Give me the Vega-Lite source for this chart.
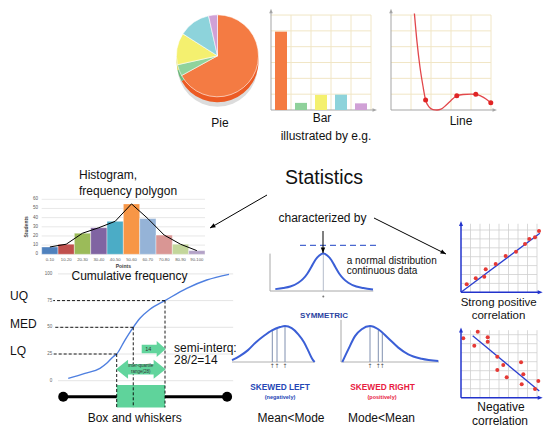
{
"$schema":"https://vega.github.io/schema/vega-lite/v6.json",
"width":545,"height":427,"autosize":"none","padding":0,"background":"#ffffff",
"config":{"view":{"stroke":null},"font":"Liberation Sans","text":{"font":"Liberation Sans"}},
"datasets":{
"one":[{"o":1}],
"idx":[{"k":1},{"k":2},{"k":3},{"k":4},{"k":5},{"k":6},{"k":7},{"k":8}],
"pie":[{"slice":"A","share":67,"rank":1},{"slice":"B","share":4.5,"rank":2},{"slice":"C","share":12.5,"rank":3},{"slice":"D","share":12.5,"rank":4},{"slice":"E","share":3.5,"rank":5}],
"bar":[{"item":"A","value":4.95},{"item":"B","value":0.45},{"item":"C","value":0.95},{"item":"D","value":0.97},{"item":"E","value":0.42}],
"curve":[{"t":1.17,"v":6.1},{"t":1.3,"v":4.3},{"t":1.45,"v":2.7},{"t":1.6,"v":1.5},{"t":1.73,"v":0.63},{"t":1.9,"v":0.2},{"t":2.1,"v":0.03},{"t":2.3,"v":0},{"t":2.5,"v":0.05},{"t":2.75,"v":0.3},{"t":3.0,"v":0.6},{"t":3.29,"v":0.9},{"t":3.6,"v":0.98},{"t":4.0,"v":1.0},{"t":4.24,"v":0.99},{"t":4.5,"v":0.88},{"t":4.75,"v":0.7},{"t":4.99,"v":0.46}],
"dots":[{"t":1.73,"v":0.63},{"t":3.29,"v":0.9},{"t":4.24,"v":0.99},{"t":4.99,"v":0.46}],
"hist":[{"bin":"0-10","lo":0,"hi":10,"mid":5,"students":8},{"bin":"10-20","lo":10,"hi":20,"mid":15,"students":11},{"bin":"20-30","lo":20,"hi":30,"mid":25,"students":23},{"bin":"30-40","lo":30,"hi":40,"mid":35,"students":29},{"bin":"40-50","lo":40,"hi":50,"mid":45,"students":36},{"bin":"50-60","lo":50,"hi":60,"mid":55,"students":55},{"bin":"60-70","lo":60,"hi":70,"mid":65,"students":39},{"bin":"70-80","lo":70,"hi":80,"mid":75,"students":21},{"bin":"80-90","lo":80,"hi":90,"mid":85,"students":11},{"bin":"90-100","lo":90,"hi":100,"mid":95,"students":4}],
"histTicks":[{"t":0},{"t":10},{"t":20},{"t":30},{"t":40},{"t":50},{"t":60}],
"cum":[{"pts":9.9,"cf":2.2},{"pts":19.6,"cf":6.9},{"pts":28.3,"cf":11.6},{"pts":32.2,"cf":16.3},{"pts":36,"cf":22.5},{"pts":38,"cf":25},{"pts":42.8,"cf":38.1},{"pts":47.6,"cf":50},{"pts":51.5,"cf":58.4},{"pts":57.3,"cf":66.9},{"pts":66,"cf":75},{"pts":78.6,"cf":86.5},{"pts":90.2,"cf":94.3},{"pts":103.1,"cf":99.6}],
"cumTicks":[{"cf":0},{"cf":25},{"cf":50},{"cf":75},{"cf":100}],
"quart":[{"q":"LQ","u":38,"cf":25},{"q":"MED","u":47.6,"cf":50},{"q":"UQ","u":66,"cf":75}],
"box":[{"min":7,"lq":38,"med":47.6,"uq":66,"max":102}],
"sym":[{"d":-4.8,"h":0.05},{"d":-4,"h":0.08},{"d":-3.3,"h":0.12},{"d":-2.5,"h":0.22},{"d":-2,"h":0.33},{"d":-1.6,"h":0.46},{"d":-1.2,"h":0.64},{"d":-0.8,"h":0.83},{"d":-0.4,"h":0.95},{"d":0,"h":1},{"d":0.4,"h":0.95},{"d":0.8,"h":0.83},{"d":1.2,"h":0.64},{"d":1.6,"h":0.46},{"d":2,"h":0.33},{"d":2.5,"h":0.22},{"d":3.3,"h":0.12},{"d":4,"h":0.08},{"d":4.97,"h":0.04}],
"skl":[{"d":-5.3,"h":0.05},{"d":-4.5,"h":0.17},{"d":-3.7,"h":0.33},{"d":-2.9,"h":0.55},{"d":-2.1,"h":0.73},{"d":-1.3,"h":0.88},{"d":-0.5,"h":0.97},{"d":0,"h":1},{"d":0.67,"h":0.94},{"d":1.33,"h":0.77},{"d":1.9,"h":0.55},{"d":2.33,"h":0.31},{"d":2.7,"h":0.1},{"d":2.95,"h":0}],
"sklLines":[{"d":-1.27,"h":0.88},{"d":-0.8,"h":0.94},{"d":0,"h":1}],
"skr":[{"d":0.13,"h":0},{"d":0.73,"h":0.35},{"d":1.4,"h":0.72},{"d":2.07,"h":0.91},{"d":2.9,"h":1},{"d":3.73,"h":0.91},{"d":4.73,"h":0.66},{"d":5.73,"h":0.4},{"d":6.73,"h":0.21},{"d":8.07,"h":0.09},{"d":9.73,"h":0.03}],
"skrLines":[{"d":2.9,"h":1},{"d":3.73,"h":0.91},{"d":4.13,"h":0.83}],
"pos":[{"a":0.6,"b":0.9},{"a":1.55,"b":1.57},{"a":2.45,"b":1.75},{"a":2.6,"b":2.58},{"a":3.65,"b":3.18},{"a":4.7,"b":4.08},{"a":5.79,"b":4.56},{"a":6.74,"b":5.43},{"a":7.19,"b":5.99},{"a":7.79,"b":6.18},{"a":8.21,"b":6.89}],
"posTrend":[{"a":0,"b":0},{"a":8.3,"b":6.63}],
"neg":[{"a":0.24,"b":6.6},{"a":1.76,"b":7.33},{"a":1.4,"b":5.78},{"a":2.81,"b":6.71},{"a":2.81,"b":6.22},{"a":3.82,"b":4.56},{"a":4.45,"b":3.63},{"a":3.82,"b":3.08},{"a":4.81,"b":2.27},{"a":6.32,"b":3.93},{"a":6.56,"b":2.6},{"a":6.39,"b":1.49},{"a":8.14,"b":1.86},{"a":7.79,"b":0.97}],
"negTrend":[{"a":1.23,"b":6.89},{"a":8.24,"b":0.74}],
"arrowPts":[{"arrow":"1","x":267,"y":195},{"arrow":"1","x":210,"y":228},{"arrow":"2","x":374,"y":218},{"arrow":"2","x":446,"y":254},{"arrow":"3","x":323,"y":231},{"arrow":"3","x":323,"y":253}],
"txt12c":[{"label":"Pie","x":220,"y":123},{"label":"Bar","x":322,"y":118},{"label":"illustrated by e.g.","x":326,"y":136},{"label":"Line","x":461,"y":121},{"label":"Cumulative frequency","x":129.5,"y":276},{"label":"characterized by","x":322.5,"y":218},{"label":"Box and whiskers","x":134.7,"y":418},{"label":"Mean<Mode","x":291,"y":418},{"label":"Mode<Mean","x":381.5,"y":418},{"label":"Negative","x":501,"y":407},{"label":"correlation","x":500,"y":420.5}],
"txt11c":[{"label":"Strong positive","x":498.7,"y":302.5},{"label":"correlation","x":498.5,"y":316}],
"txt12l":[{"label":"Histogram,","x":79,"y":175},{"label":"frequency polygon","x":79,"y":190.5},{"label":"semi-interq:","x":174,"y":347.5},{"label":"28/2=14","x":174,"y":360},{"label":"UQ","x":10,"y":296},{"label":"MED","x":10,"y":324},{"label":"LQ","x":10,"y":351}],
"txt10l":[{"label":"a normal distribution","x":346.7,"y":261},{"label":"continuous data","x":346.7,"y":270.5}]
},
"resolve":{"scale":{"x":"independent","y":"independent","color":"independent","theta":"independent"}},
"layer":[
{"resolve":{"scale":{"color":"independent"}},
 "layer":[
  {"data":{"name":"one"},"mark":{"type":"point","shape":"circle","filled":true,"color":"#DCDCDC","opacity":1,"size":6400},
   "encoding":{"x":{"datum":"pie","type":"nominal","scale":{"type":"point","domain":["pie"],"range":[176.7,258.3],"padding":0.5},"axis":null},
    "y":{"datum":"shadow","type":"nominal","scale":{"type":"point","domain":["top","side","shadow"],"range":[55.8,66.8],"padding":0},"axis":null}}},
  {"data":{"name":"pie"},"mark":{"type":"arc","radius":41},
   "encoding":{"theta":{"field":"share","type":"quantitative","stack":true},"order":{"field":"rank","type":"quantitative"},
    "color":{"field":"slice","type":"nominal","scale":{"domain":["A","B","C","D","E"],"range":["#EC5B24","#6DBA7B","#D8D54F","#6CB6BE","#B384BB"]},"legend":null},
    "x":{"datum":"pie","type":"nominal","scale":{"type":"point","domain":["pie"],"range":[176.7,258.3],"padding":0.5},"axis":null},
    "y":{"datum":"side","type":"nominal","scale":{"type":"point","domain":["top","side","shadow"],"range":[55.8,66.8],"padding":0},"axis":null}}},
  {"data":{"name":"pie"},"mark":{"type":"arc","radius":41,"stroke":"#ffffff","strokeWidth":0.6},
   "encoding":{"theta":{"field":"share","type":"quantitative","stack":true},"order":{"field":"rank","type":"quantitative"},
    "color":{"field":"slice","type":"nominal","scale":{"domain":["A","B","C","D","E"],"range":["#F47B43","#8FD39C","#F4F06F","#8DD3DB","#D0A1D6"]},"legend":null},
    "x":{"datum":"pie","type":"nominal","scale":{"type":"point","domain":["pie"],"range":[176.7,258.3],"padding":0.5},"axis":null},
    "y":{"datum":"top","type":"nominal","scale":{"type":"point","domain":["top","side","shadow"],"range":[55.8,66.8],"padding":0},"axis":null}}}
 ]},
{"layer":[
  {"data":{"name":"idx"},"transform":[{"filter":"datum.k<=5"}],"mark":{"type":"rule","color":"#F1E6C6","strokeWidth":1},
   "encoding":{"x":{"field":"k","type":"quantitative","scale":{"domain":[0,5.3],"range":[271,377],"nice":false,"zero":false},"axis":null},
    "y":{"datum":0,"type":"quantitative","scale":{"domain":[0,6.4],"range":[110,8.7],"nice":false,"zero":false},"axis":null},"y2":{"datum":6}}},
  {"data":{"name":"idx"},"transform":[{"filter":"datum.k<=6"}],"mark":{"type":"rule","color":"#F1E6C6","strokeWidth":1},
   "encoding":{"y":{"field":"k","type":"quantitative","scale":{"domain":[0,6.4],"range":[110,8.7],"nice":false,"zero":false},"axis":null},
    "x":{"datum":0,"type":"quantitative","scale":{"domain":[0,5.3],"range":[271,377],"nice":false,"zero":false},"axis":null},"x2":{"datum":5}}},
  {"data":{"name":"one"},"mark":{"type":"rule","color":"#A5A5A5","strokeWidth":1},
   "encoding":{"x":{"datum":0,"type":"quantitative","scale":{"domain":[0,5.3],"range":[271,377],"nice":false,"zero":false},"axis":null},
    "y":{"datum":0,"type":"quantitative","scale":{"domain":[0,6.4],"range":[110,8.7],"nice":false,"zero":false},"axis":null},"y2":{"datum":6.2}}},
  {"data":{"name":"one"},"mark":{"type":"rule","color":"#A5A5A5","strokeWidth":1},
   "encoding":{"y":{"datum":0,"type":"quantitative","scale":{"domain":[0,6.4],"range":[110,8.7],"nice":false,"zero":false},"axis":null},
    "x":{"datum":0,"type":"quantitative","scale":{"domain":[0,5.3],"range":[271,377],"nice":false,"zero":false},"axis":null},"x2":{"datum":5.1}}},
  {"data":{"name":"one"},"mark":{"type":"point","shape":"M0,0L-0.8,2L0.8,2Z","filled":true,"opacity":1,"color":"#A5A5A5","size":20,"angle":0},
   "encoding":{"x":{"datum":0,"type":"quantitative","scale":{"domain":[0,5.3],"range":[271,377],"nice":false,"zero":false},"axis":null},
    "y":{"datum":6.4,"type":"quantitative","scale":{"domain":[0,6.4],"range":[110,8.7],"nice":false,"zero":false},"axis":null}}},
  {"data":{"name":"one"},"mark":{"type":"point","shape":"M0,0L-0.8,2L0.8,2Z","filled":true,"opacity":1,"color":"#A5A5A5","size":20,"angle":90},
   "encoding":{"x":{"datum":5.3,"type":"quantitative","scale":{"domain":[0,5.3],"range":[271,377],"nice":false,"zero":false},"axis":null},
    "y":{"datum":0,"type":"quantitative","scale":{"domain":[0,6.4],"range":[110,8.7],"nice":false,"zero":false},"axis":null}}}
 ]},
{"data":{"name":"bar"},"mark":{"type":"bar"},
 "encoding":{"x":{"field":"item","type":"nominal","scale":{"domain":["A","B","C","D","E"],"range":[271,371],"paddingInner":0.4,"paddingOuter":0.2},"axis":null},
  "y":{"field":"value","type":"quantitative","scale":{"domain":[0,6.4],"range":[110,8.7],"nice":false,"zero":false},"axis":null},
  "color":{"field":"item","type":"nominal","scale":{"domain":["A","B","C","D","E"],"range":["#F47B43","#8FD19B","#F4F06F","#8DD3DB","#D0A1D6"]},"legend":null}}},
{"layer":[
  {"data":{"name":"idx"},"transform":[{"filter":"datum.k<=5"}],"mark":{"type":"rule","color":"#F1E6C6","strokeWidth":1},
   "encoding":{"x":{"field":"k","type":"quantitative","scale":{"domain":[0,5.3],"range":[391,497],"nice":false,"zero":false},"axis":null},
    "y":{"datum":0,"type":"quantitative","scale":{"domain":[0,6.4],"range":[110,8.7],"nice":false,"zero":false},"axis":null},"y2":{"datum":6}}},
  {"data":{"name":"idx"},"transform":[{"filter":"datum.k<=6"}],"mark":{"type":"rule","color":"#F1E6C6","strokeWidth":1},
   "encoding":{"y":{"field":"k","type":"quantitative","scale":{"domain":[0,6.4],"range":[110,8.7],"nice":false,"zero":false},"axis":null},
    "x":{"datum":0,"type":"quantitative","scale":{"domain":[0,5.3],"range":[391,497],"nice":false,"zero":false},"axis":null},"x2":{"datum":5}}},
  {"data":{"name":"one"},"mark":{"type":"rule","color":"#A5A5A5","strokeWidth":1},
   "encoding":{"x":{"datum":0,"type":"quantitative","scale":{"domain":[0,5.3],"range":[391,497],"nice":false,"zero":false},"axis":null},
    "y":{"datum":0,"type":"quantitative","scale":{"domain":[0,6.4],"range":[110,8.7],"nice":false,"zero":false},"axis":null},"y2":{"datum":6.2}}},
  {"data":{"name":"one"},"mark":{"type":"rule","color":"#A5A5A5","strokeWidth":1},
   "encoding":{"y":{"datum":0,"type":"quantitative","scale":{"domain":[0,6.4],"range":[110,8.7],"nice":false,"zero":false},"axis":null},
    "x":{"datum":0,"type":"quantitative","scale":{"domain":[0,5.3],"range":[391,497],"nice":false,"zero":false},"axis":null},"x2":{"datum":5.1}}},
  {"data":{"name":"one"},"mark":{"type":"point","shape":"M0,0L-0.8,2L0.8,2Z","filled":true,"opacity":1,"color":"#A5A5A5","size":20,"angle":0},
   "encoding":{"x":{"datum":0,"type":"quantitative","scale":{"domain":[0,5.3],"range":[391,497],"nice":false,"zero":false},"axis":null},
    "y":{"datum":6.4,"type":"quantitative","scale":{"domain":[0,6.4],"range":[110,8.7],"nice":false,"zero":false},"axis":null}}},
  {"data":{"name":"one"},"mark":{"type":"point","shape":"M0,0L-0.8,2L0.8,2Z","filled":true,"opacity":1,"color":"#A5A5A5","size":20,"angle":90},
   "encoding":{"x":{"datum":5.3,"type":"quantitative","scale":{"domain":[0,5.3],"range":[391,497],"nice":false,"zero":false},"axis":null},
    "y":{"datum":0,"type":"quantitative","scale":{"domain":[0,6.4],"range":[110,8.7],"nice":false,"zero":false},"axis":null}}},
  {"data":{"name":"curve"},"mark":{"type":"line","color":"#E2474B","strokeWidth":1.3,"interpolate":"monotone"},
   "encoding":{"x":{"field":"t","type":"quantitative","scale":{"domain":[0,5.3],"range":[391,497],"nice":false,"zero":false},"axis":null},
    "y":{"field":"v","type":"quantitative","scale":{"domain":[0,6.4],"range":[110,8.7],"nice":false,"zero":false},"axis":null}}},
  {"data":{"name":"dots"},"mark":{"type":"point","shape":"circle","filled":true,"opacity":1,"color":"#E02424","size":25},
   "encoding":{"x":{"field":"t","type":"quantitative","scale":{"domain":[0,5.3],"range":[391,497],"nice":false,"zero":false},"axis":null},
    "y":{"field":"v","type":"quantitative","scale":{"domain":[0,6.4],"range":[110,8.7],"nice":false,"zero":false},"axis":null}}}
 ]},
{"layer":[
  {"data":{"name":"histTicks"},"mark":{"type":"rule","color":"#D9D9D9","strokeWidth":0.6},
   "encoding":{"y":{"field":"t","type":"quantitative","scale":{"domain":[0,60],"range":[254.3,199.3],"nice":false,"zero":false},"axis":null},
    "x":{"datum":0,"type":"quantitative","scale":{"domain":[0,100],"range":[41.7,205],"nice":false,"zero":false},"axis":null},"x2":{"datum":100}}},
  {"data":{"name":"hist"},"mark":{"type":"rect","stroke":"#ffffff","strokeWidth":0.4},
   "encoding":{"x":{"field":"lo","type":"quantitative","scale":{"domain":[0,100],"range":[41.7,205],"nice":false,"zero":false},"axis":null},"x2":{"field":"hi"},
    "y":{"field":"students","type":"quantitative","scale":{"domain":[0,60],"range":[254.3,199.3],"nice":false,"zero":false},"axis":null},"y2":{"datum":0},
    "color":{"field":"bin","type":"nominal","scale":{"domain":["0-10","10-20","20-30","30-40","40-50","50-60","60-70","70-80","80-90","90-100"],"range":["#4F81BD","#C0504D","#9BBB59","#8064A2","#4BACC6","#F79646","#95B3D7","#D99694","#C3D69B","#B3A2C7"]},"legend":null}}},
  {"data":{"name":"hist"},"mark":{"type":"line","color":"#000000","strokeWidth":1},
   "encoding":{"x":{"field":"mid","type":"quantitative","scale":{"domain":[0,100],"range":[41.7,205],"nice":false,"zero":false},"axis":null},
    "y":{"field":"students","type":"quantitative","scale":{"domain":[0,60],"range":[254.3,199.3],"nice":false,"zero":false},"axis":null}}},
  {"data":{"name":"histTicks"},"mark":{"type":"text","align":"right","fontSize":4.5,"color":"#595959"},
   "encoding":{"y":{"field":"t","type":"quantitative","scale":{"domain":[0,60],"range":[254.3,199.3],"nice":false,"zero":false},"axis":null},
    "x":{"datum":-2.2,"type":"quantitative","scale":{"domain":[0,100],"range":[41.7,205],"nice":false,"zero":false},"axis":null},"text":{"field":"t","type":"quantitative"}}},
  {"data":{"name":"hist"},"mark":{"type":"text","fontSize":4.2,"color":"#595959"},
   "encoding":{"x":{"field":"mid","type":"quantitative","scale":{"domain":[0,100],"range":[41.7,205],"nice":false,"zero":false},"axis":null},
    "y":{"datum":-6.5,"type":"quantitative","scale":{"domain":[0,60],"range":[254.3,199.3],"nice":false,"zero":false},"axis":null},"text":{"field":"bin","type":"nominal"}}},
  {"data":{"name":"one"},"mark":{"type":"text","text":"Students","angle":270,"fontSize":5,"fontWeight":"bold","color":"#404040"},
   "encoding":{"x":{"datum":-9.5,"type":"quantitative","scale":{"domain":[0,100],"range":[41.7,205],"nice":false,"zero":false},"axis":null},
    "y":{"datum":30,"type":"quantitative","scale":{"domain":[0,60],"range":[254.3,199.3],"nice":false,"zero":false},"axis":null}}},
  {"data":{"name":"one"},"mark":{"type":"text","text":"Points","fontSize":5,"fontWeight":"bold","color":"#404040"},
   "encoding":{"x":{"datum":50,"type":"quantitative","scale":{"domain":[0,100],"range":[41.7,205],"nice":false,"zero":false},"axis":null},
    "y":{"datum":-12.6,"type":"quantitative","scale":{"domain":[0,60],"range":[254.3,199.3],"nice":false,"zero":false},"axis":null}}}
 ]},
{"layer":[
  {"data":{"name":"cumTicks"},"mark":{"type":"rule","color":"#DDDDDD","strokeWidth":0.8},
   "encoding":{"y":{"field":"cf","type":"quantitative","scale":{"domain":[-30,100],"range":[412.74,273.9],"nice":false,"zero":false},"axis":null},
    "x":{"datum":4,"type":"quantitative","scale":{"domain":[-4,106],"range":[44.25,234],"nice":false,"zero":false},"axis":null},"x2":{"datum":105.5}}},
  {"data":{"name":"cumTicks"},"mark":{"type":"text","align":"right","fontSize":4.5,"color":"#666666"},
   "encoding":{"y":{"field":"cf","type":"quantitative","scale":{"domain":[-30,100],"range":[412.74,273.9],"nice":false,"zero":false},"axis":null},
    "x":{"datum":0.7,"type":"quantitative","scale":{"domain":[-4,106],"range":[44.25,234],"nice":false,"zero":false},"axis":null},"text":{"field":"cf","type":"quantitative"}}},
  {"data":{"name":"cum"},"mark":{"type":"line","color":"#4E7FE0","strokeWidth":1.4,"interpolate":"monotone"},
   "encoding":{"x":{"field":"pts","type":"quantitative","scale":{"domain":[-4,106],"range":[44.25,234],"nice":false,"zero":false},"axis":null},
    "y":{"field":"cf","type":"quantitative","scale":{"domain":[-30,100],"range":[412.74,273.9],"nice":false,"zero":false},"axis":null}}},
  {"data":{"name":"box"},"mark":{"type":"rule","color":"#000000","strokeWidth":3},
   "encoding":{"x":{"field":"min","type":"quantitative","scale":{"domain":[-4,106],"range":[44.25,234],"nice":false,"zero":false},"axis":null},"x2":{"field":"max"},
    "y":{"datum":-15,"type":"quantitative","scale":{"domain":[-30,100],"range":[412.74,273.9],"nice":false,"zero":false},"axis":null}}},
  {"data":{"name":"box"},"mark":{"type":"point","shape":"circle","filled":true,"opacity":1,"color":"#000000","size":100},
   "encoding":{"x":{"field":"min","type":"quantitative","scale":{"domain":[-4,106],"range":[44.25,234],"nice":false,"zero":false},"axis":null},
    "y":{"datum":-15,"type":"quantitative","scale":{"domain":[-30,100],"range":[412.74,273.9],"nice":false,"zero":false},"axis":null}}},
  {"data":{"name":"box"},"mark":{"type":"point","shape":"circle","filled":true,"opacity":1,"color":"#000000","size":100},
   "encoding":{"x":{"field":"max","type":"quantitative","scale":{"domain":[-4,106],"range":[44.25,234],"nice":false,"zero":false},"axis":null},
    "y":{"datum":-15,"type":"quantitative","scale":{"domain":[-30,100],"range":[412.74,273.9],"nice":false,"zero":false},"axis":null}}},
  {"data":{"name":"box"},"mark":{"type":"rect","color":"#5FD39B"},
   "encoding":{"x":{"field":"lq","type":"quantitative","scale":{"domain":[-4,106],"range":[44.25,234],"nice":false,"zero":false},"axis":null},"x2":{"field":"uq"},
    "y":{"datum":-4,"type":"quantitative","scale":{"domain":[-30,100],"range":[412.74,273.9],"nice":false,"zero":false},"axis":null},"y2":{"datum":-25}}},
  {"data":{"name":"quart"},"mark":{"type":"rule","color":"#000000","strokeWidth":0.9,"strokeDash":[3,2]},
   "encoding":{"x":{"field":"u","type":"quantitative","scale":{"domain":[-4,106],"range":[44.25,234],"nice":false,"zero":false},"axis":null},"x2":{"datum":1.2},
    "y":{"field":"cf","type":"quantitative","scale":{"domain":[-30,100],"range":[412.74,273.9],"nice":false,"zero":false},"axis":null}}},
  {"data":{"name":"quart"},"mark":{"type":"rule","color":"#000000","strokeWidth":0.9,"strokeDash":[3,2]},
   "encoding":{"x":{"field":"u","type":"quantitative","scale":{"domain":[-4,106],"range":[44.25,234],"nice":false,"zero":false},"axis":null},
    "y":{"field":"cf","type":"quantitative","scale":{"domain":[-30,100],"range":[412.74,273.9],"nice":false,"zero":false},"axis":null},"y2":{"datum":-25}}},
  {"data":{"name":"one"},"mark":{"type":"point","shape":"M-2.48,0L-1.28,-0.95L-1.28,-0.53L1.28,-0.53L1.28,-0.95L2.48,0L1.28,0.95L1.28,0.53L-1.28,0.53L-1.28,0.95Z","filled":true,"opacity":1,"color":"#62D59D","size":400},
   "encoding":{"x":{"datum":52,"type":"quantitative","scale":{"domain":[-4,106],"range":[44.25,234],"nice":false,"zero":false},"axis":null},
    "y":{"datum":10.7,"type":"quantitative","scale":{"domain":[-30,100],"range":[412.74,273.9],"nice":false,"zero":false},"axis":null}}},
  {"data":{"name":"one"},"mark":{"type":"point","shape":"M-1.2,-0.415L0.3,-0.415L0.3,-0.8L1.2,0L0.3,0.8L0.3,0.415L-1.2,0.415Z","filled":true,"opacity":1,"color":"#62D59D","size":400},
   "encoding":{"x":{"datum":59.45,"type":"quantitative","scale":{"domain":[-4,106],"range":[44.25,234],"nice":false,"zero":false},"axis":null},
    "y":{"datum":29.7,"type":"quantitative","scale":{"domain":[-30,100],"range":[412.74,273.9],"nice":false,"zero":false},"axis":null}}},
  {"data":{"name":"one"},"mark":{"type":"text","text":"inter-quartile","fontSize":4.5,"color":"#333333"},
   "encoding":{"x":{"datum":52,"type":"quantitative","scale":{"domain":[-4,106],"range":[44.25,234],"nice":false,"zero":false},"axis":null},
    "y":{"datum":13.3,"type":"quantitative","scale":{"domain":[-30,100],"range":[412.74,273.9],"nice":false,"zero":false},"axis":null}}},
  {"data":{"name":"one"},"mark":{"type":"text","text":"range(28)","fontSize":4.5,"color":"#333333"},
   "encoding":{"x":{"datum":52,"type":"quantitative","scale":{"domain":[-4,106],"range":[44.25,234],"nice":false,"zero":false},"axis":null},
    "y":{"datum":8,"type":"quantitative","scale":{"domain":[-30,100],"range":[412.74,273.9],"nice":false,"zero":false},"axis":null}}},
  {"data":{"name":"one"},"mark":{"type":"text","text":"14","fontSize":5.5,"color":"#333333"},
   "encoding":{"x":{"datum":56.3,"type":"quantitative","scale":{"domain":[-4,106],"range":[44.25,234],"nice":false,"zero":false},"axis":null},
    "y":{"datum":29.7,"type":"quantitative","scale":{"domain":[-30,100],"range":[412.74,273.9],"nice":false,"zero":false},"axis":null}}}
 ]},
{"layer":[
  {"data":{"name":"one"},"mark":{"type":"rule","color":"#A8A8A8","strokeWidth":1},
   "encoding":{"x":{"datum":-5.33,"type":"quantitative","scale":{"domain":[-5.33,5.7],"range":[270,380.3],"nice":false,"zero":false},"axis":null},
    "y":{"datum":0,"type":"quantitative","scale":{"domain":[0,1.25],"range":[291,244.25],"nice":false,"zero":false},"axis":null},"y2":{"datum":1}}},
  {"data":{"name":"one"},"mark":{"type":"rule","color":"#A8A8A8","strokeWidth":1},
   "encoding":{"x":{"datum":-5.33,"type":"quantitative","scale":{"domain":[-5.33,5.7],"range":[270,380.3],"nice":false,"zero":false},"axis":null},"x2":{"datum":5},
    "y":{"datum":0,"type":"quantitative","scale":{"domain":[0,1.25],"range":[291,244.25],"nice":false,"zero":false},"axis":null}}},
  {"data":{"name":"one"},"mark":{"type":"rule","color":"#B5BCCB","strokeWidth":1},
   "encoding":{"x":{"datum":0,"type":"quantitative","scale":{"domain":[-5.33,5.7],"range":[270,380.3],"nice":false,"zero":false},"axis":null},
    "y":{"datum":0,"type":"quantitative","scale":{"domain":[0,1.25],"range":[291,244.25],"nice":false,"zero":false},"axis":null},"y2":{"datum":1}}},
  {"data":{"name":"sym"},"mark":{"type":"line","color":"#3B5FD6","strokeWidth":2,"interpolate":"monotone"},
   "encoding":{"x":{"field":"d","type":"quantitative","scale":{"domain":[-5.33,5.7],"range":[270,380.3],"nice":false,"zero":false},"axis":null},
    "y":{"field":"h","type":"quantitative","scale":{"domain":[0,1.25],"range":[291,244.25],"nice":false,"zero":false},"axis":null}}},
  {"data":{"name":"one"},"mark":{"type":"rule","color":"#4A68D0","strokeWidth":1.2,"strokeDash":[6,4]},
   "encoding":{"x":{"datum":-2.33,"type":"quantitative","scale":{"domain":[-5.33,5.7],"range":[270,380.3],"nice":false,"zero":false},"axis":null},"x2":{"datum":5.67},
    "y":{"datum":1.22,"type":"quantitative","scale":{"domain":[0,1.25],"range":[291,244.25],"nice":false,"zero":false},"axis":null}}},
  {"data":{"name":"one"},"mark":{"type":"point","shape":"circle","filled":true,"opacity":1,"color":"#777777","size":4},
   "encoding":{"x":{"datum":0,"type":"quantitative","scale":{"domain":[-5.33,5.7],"range":[270,380.3],"nice":false,"zero":false},"axis":null},
    "y":{"datum":-0.15,"type":"quantitative","scale":{"domain":[0,1.25],"range":[291,244.25],"nice":false,"zero":false},"axis":null}}}
 ]},
{"layer":[
  {"data":{"name":"one"},"mark":{"type":"rule","color":"#B0B0B0","strokeWidth":1},
   "encoding":{"x":{"datum":-5.3,"type":"quantitative","scale":{"domain":[-6,4],"range":[225,325],"nice":false,"zero":false},"axis":null},"x2":{"datum":3},
    "y":{"datum":0,"type":"quantitative","scale":{"domain":[0,1],"range":[362,326],"nice":false,"zero":false},"axis":null}}},
  {"data":{"name":"sklLines"},"mark":{"type":"rule","color":"#8090B0","strokeWidth":1},
   "encoding":{"x":{"field":"d","type":"quantitative","scale":{"domain":[-6,4],"range":[225,325],"nice":false,"zero":false},"axis":null},
    "y":{"field":"h","type":"quantitative","scale":{"domain":[0,1],"range":[362,326],"nice":false,"zero":false},"axis":null},"y2":{"datum":0}}},
  {"data":{"name":"skl"},"mark":{"type":"line","color":"#3B5FD6","strokeWidth":2,"interpolate":"monotone"},
   "encoding":{"x":{"field":"d","type":"quantitative","scale":{"domain":[-6,4],"range":[225,325],"nice":false,"zero":false},"axis":null},
    "y":{"field":"h","type":"quantitative","scale":{"domain":[0,1],"range":[362,326],"nice":false,"zero":false},"axis":null}}},
  {"data":{"name":"sklLines"},"mark":{"type":"text","text":"↑","font":"DejaVu Sans","fontSize":6,"color":"#555555"},
   "encoding":{"x":{"field":"d","type":"quantitative","scale":{"domain":[-6,4],"range":[225,325],"nice":false,"zero":false},"axis":null},
    "y":{"datum":-0.12,"type":"quantitative","scale":{"domain":[0,1],"range":[362,326],"nice":false,"zero":false},"axis":null}}}
 ]},
{"layer":[
  {"data":{"name":"one"},"mark":{"type":"rule","color":"#A8A8A8","strokeWidth":1},
   "encoding":{"x":{"datum":0,"type":"quantitative","scale":{"domain":[0,10],"range":[341,441],"nice":false,"zero":false},"axis":null},
    "y":{"datum":0,"type":"quantitative","scale":{"domain":[0,1.2],"range":[362,318.8],"nice":false,"zero":false},"axis":null},"y2":{"datum":1.17}}},
  {"data":{"name":"one"},"mark":{"type":"rule","color":"#B0B0B0","strokeWidth":1},
   "encoding":{"x":{"datum":0,"type":"quantitative","scale":{"domain":[0,10],"range":[341,441],"nice":false,"zero":false},"axis":null},"x2":{"datum":9.8},
    "y":{"datum":0,"type":"quantitative","scale":{"domain":[0,1.2],"range":[362,318.8],"nice":false,"zero":false},"axis":null}}},
  {"data":{"name":"skrLines"},"mark":{"type":"rule","color":"#8090B0","strokeWidth":1},
   "encoding":{"x":{"field":"d","type":"quantitative","scale":{"domain":[0,10],"range":[341,441],"nice":false,"zero":false},"axis":null},
    "y":{"field":"h","type":"quantitative","scale":{"domain":[0,1.2],"range":[362,318.8],"nice":false,"zero":false},"axis":null},"y2":{"datum":0}}},
  {"data":{"name":"skr"},"mark":{"type":"line","color":"#3B5FD6","strokeWidth":2,"interpolate":"monotone"},
   "encoding":{"x":{"field":"d","type":"quantitative","scale":{"domain":[0,10],"range":[341,441],"nice":false,"zero":false},"axis":null},
    "y":{"field":"h","type":"quantitative","scale":{"domain":[0,1.2],"range":[362,318.8],"nice":false,"zero":false},"axis":null}}},
  {"data":{"name":"skrLines"},"mark":{"type":"text","text":"↑","font":"DejaVu Sans","fontSize":6,"color":"#555555"},
   "encoding":{"x":{"field":"d","type":"quantitative","scale":{"domain":[0,10],"range":[341,441],"nice":false,"zero":false},"axis":null},
    "y":{"datum":-0.12,"type":"quantitative","scale":{"domain":[0,1.2],"range":[362,318.8],"nice":false,"zero":false},"axis":null}}}
 ]},
{"layer":[
  {"data":{"name":"idx"},"mark":{"type":"rule","color":"#CFCFCF","strokeWidth":0.8},
   "encoding":{"x":{"field":"k","type":"quantitative","scale":{"domain":[0,8.6],"range":[461,542.7],"nice":false,"zero":false},"axis":null},
    "y":{"datum":0,"type":"quantitative","scale":{"domain":[0,8],"range":[292.3,221.1],"nice":false,"zero":false},"axis":null},"y2":{"datum":7.7}}},
  {"data":{"name":"idx"},"transform":[{"filter":"datum.k<=7"}],"mark":{"type":"rule","color":"#CFCFCF","strokeWidth":0.8},
   "encoding":{"y":{"field":"k","type":"quantitative","scale":{"domain":[0,8],"range":[292.3,221.1],"nice":false,"zero":false},"axis":null},
    "x":{"datum":0,"type":"quantitative","scale":{"domain":[0,8.6],"range":[461,542.7],"nice":false,"zero":false},"axis":null},"x2":{"datum":8}}},
  {"data":{"name":"posTrend"},"mark":{"type":"line","color":"#2B3FD0","strokeWidth":1.3},
   "encoding":{"x":{"field":"a","type":"quantitative","scale":{"domain":[0,8.6],"range":[461,542.7],"nice":false,"zero":false},"axis":null},
    "y":{"field":"b","type":"quantitative","scale":{"domain":[0,8],"range":[292.3,221.1],"nice":false,"zero":false},"axis":null}}},
  {"data":{"name":"pos"},"mark":{"type":"point","shape":"circle","filled":true,"opacity":1,"color":"#E53935","size":16},
   "encoding":{"x":{"field":"a","type":"quantitative","scale":{"domain":[0,8.6],"range":[461,542.7],"nice":false,"zero":false},"axis":null},
    "y":{"field":"b","type":"quantitative","scale":{"domain":[0,8],"range":[292.3,221.1],"nice":false,"zero":false},"axis":null}}},
  {"data":{"name":"one"},"mark":{"type":"rule","color":"#2233CC","strokeWidth":1.5},
   "encoding":{"x":{"datum":0,"type":"quantitative","scale":{"domain":[0,8.6],"range":[461,542.7],"nice":false,"zero":false},"axis":null},
    "y":{"datum":0,"type":"quantitative","scale":{"domain":[0,8],"range":[292.3,221.1],"nice":false,"zero":false},"axis":null},"y2":{"datum":7.6}}},
  {"data":{"name":"one"},"mark":{"type":"rule","color":"#2233CC","strokeWidth":1.5},
   "encoding":{"x":{"datum":0,"type":"quantitative","scale":{"domain":[0,8.6],"range":[461,542.7],"nice":false,"zero":false},"axis":null},"x2":{"datum":8.2},
    "y":{"datum":0,"type":"quantitative","scale":{"domain":[0,8],"range":[292.3,221.1],"nice":false,"zero":false},"axis":null}}},
  {"data":{"name":"one"},"mark":{"type":"point","shape":"M0,0L-0.8,2L0.8,2Z","filled":true,"opacity":1,"color":"#2233CC","size":25,"angle":0},
   "encoding":{"x":{"datum":0,"type":"quantitative","scale":{"domain":[0,8.6],"range":[461,542.7],"nice":false,"zero":false},"axis":null},
    "y":{"datum":8,"type":"quantitative","scale":{"domain":[0,8],"range":[292.3,221.1],"nice":false,"zero":false},"axis":null}}},
  {"data":{"name":"one"},"mark":{"type":"point","shape":"M0,0L-0.8,2L0.8,2Z","filled":true,"opacity":1,"color":"#2233CC","size":25,"angle":90},
   "encoding":{"x":{"datum":8.6,"type":"quantitative","scale":{"domain":[0,8.6],"range":[461,542.7],"nice":false,"zero":false},"axis":null},
    "y":{"datum":0,"type":"quantitative","scale":{"domain":[0,8],"range":[292.3,221.1],"nice":false,"zero":false},"axis":null}}}
 ]},
{"layer":[
  {"data":{"name":"idx"},"mark":{"type":"rule","color":"#CFCFCF","strokeWidth":0.8},
   "encoding":{"x":{"field":"k","type":"quantitative","scale":{"domain":[0,8.6],"range":[461,542.7],"nice":false,"zero":false},"axis":null},
    "y":{"datum":0,"type":"quantitative","scale":{"domain":[0,8],"range":[397.7,325.7],"nice":false,"zero":false},"axis":null},"y2":{"datum":7.5}}},
  {"data":{"name":"idx"},"transform":[{"filter":"datum.k<=7"}],"mark":{"type":"rule","color":"#CFCFCF","strokeWidth":0.8},
   "encoding":{"y":{"field":"k","type":"quantitative","scale":{"domain":[0,8],"range":[397.7,325.7],"nice":false,"zero":false},"axis":null},
    "x":{"datum":0,"type":"quantitative","scale":{"domain":[0,8.6],"range":[461,542.7],"nice":false,"zero":false},"axis":null},"x2":{"datum":8}}},
  {"data":{"name":"negTrend"},"mark":{"type":"line","color":"#2B3FD0","strokeWidth":1.3},
   "encoding":{"x":{"field":"a","type":"quantitative","scale":{"domain":[0,8.6],"range":[461,542.7],"nice":false,"zero":false},"axis":null},
    "y":{"field":"b","type":"quantitative","scale":{"domain":[0,8],"range":[397.7,325.7],"nice":false,"zero":false},"axis":null}}},
  {"data":{"name":"neg"},"mark":{"type":"point","shape":"circle","filled":true,"opacity":1,"color":"#E53935","size":16},
   "encoding":{"x":{"field":"a","type":"quantitative","scale":{"domain":[0,8.6],"range":[461,542.7],"nice":false,"zero":false},"axis":null},
    "y":{"field":"b","type":"quantitative","scale":{"domain":[0,8],"range":[397.7,325.7],"nice":false,"zero":false},"axis":null}}},
  {"data":{"name":"one"},"mark":{"type":"rule","color":"#2233CC","strokeWidth":1.5},
   "encoding":{"x":{"datum":0,"type":"quantitative","scale":{"domain":[0,8.6],"range":[461,542.7],"nice":false,"zero":false},"axis":null},
    "y":{"datum":0,"type":"quantitative","scale":{"domain":[0,8],"range":[397.7,325.7],"nice":false,"zero":false},"axis":null},"y2":{"datum":7.4}}},
  {"data":{"name":"one"},"mark":{"type":"rule","color":"#2233CC","strokeWidth":1.5},
   "encoding":{"x":{"datum":0,"type":"quantitative","scale":{"domain":[0,8.6],"range":[461,542.7],"nice":false,"zero":false},"axis":null},"x2":{"datum":8.2},
    "y":{"datum":0,"type":"quantitative","scale":{"domain":[0,8],"range":[397.7,325.7],"nice":false,"zero":false},"axis":null}}},
  {"data":{"name":"one"},"mark":{"type":"point","shape":"M0,0L-0.8,2L0.8,2Z","filled":true,"opacity":1,"color":"#2233CC","size":25,"angle":0},
   "encoding":{"x":{"datum":0,"type":"quantitative","scale":{"domain":[0,8.6],"range":[461,542.7],"nice":false,"zero":false},"axis":null},
    "y":{"datum":7.8,"type":"quantitative","scale":{"domain":[0,8],"range":[397.7,325.7],"nice":false,"zero":false},"axis":null}}},
  {"data":{"name":"one"},"mark":{"type":"point","shape":"M0,0L-0.8,2L0.8,2Z","filled":true,"opacity":1,"color":"#2233CC","size":25,"angle":90},
   "encoding":{"x":{"datum":8.6,"type":"quantitative","scale":{"domain":[0,8.6],"range":[461,542.7],"nice":false,"zero":false},"axis":null},
    "y":{"datum":0,"type":"quantitative","scale":{"domain":[0,8],"range":[397.7,325.7],"nice":false,"zero":false},"axis":null}}}
 ]},
{"layer":[
  {"data":{"name":"arrowPts"},"mark":{"type":"line","color":"#000000","strokeWidth":1},
   "encoding":{"x":{"field":"x","type":"quantitative","scale":{"domain":[0,545],"range":[0,545],"nice":false,"zero":false},"axis":null},
    "y":{"field":"y","type":"quantitative","scale":{"domain":[0,427],"range":[0,427],"nice":false,"zero":false},"axis":null},"detail":{"field":"arrow","type":"nominal"}}},
  {"data":{"name":"one"},"mark":{"type":"point","shape":"M0,0L-0.8,2L0.8,2Z","filled":true,"opacity":1,"color":"#000000","size":30,"angle":240},
   "encoding":{"x":{"datum":210,"type":"quantitative","scale":{"domain":[0,545],"range":[0,545],"nice":false,"zero":false},"axis":null},
    "y":{"datum":228,"type":"quantitative","scale":{"domain":[0,427],"range":[0,427],"nice":false,"zero":false},"axis":null}}},
  {"data":{"name":"one"},"mark":{"type":"point","shape":"M0,0L-0.8,2L0.8,2Z","filled":true,"opacity":1,"color":"#000000","size":30,"angle":117},
   "encoding":{"x":{"datum":446,"type":"quantitative","scale":{"domain":[0,545],"range":[0,545],"nice":false,"zero":false},"axis":null},
    "y":{"datum":254,"type":"quantitative","scale":{"domain":[0,427],"range":[0,427],"nice":false,"zero":false},"axis":null}}},
  {"data":{"name":"one"},"mark":{"type":"point","shape":"M0,0L-0.8,2L0.8,2Z","filled":true,"opacity":1,"color":"#000000","size":30,"angle":180},
   "encoding":{"x":{"datum":323,"type":"quantitative","scale":{"domain":[0,545],"range":[0,545],"nice":false,"zero":false},"axis":null},
    "y":{"datum":253,"type":"quantitative","scale":{"domain":[0,427],"range":[0,427],"nice":false,"zero":false},"axis":null}}},
  {"data":{"name":"txt12c"},"mark":{"type":"text","fontSize":12,"color":"#111111"},
   "encoding":{"x":{"field":"x","type":"quantitative","scale":{"domain":[0,545],"range":[0,545],"nice":false,"zero":false},"axis":null},
    "y":{"field":"y","type":"quantitative","scale":{"domain":[0,427],"range":[0,427],"nice":false,"zero":false},"axis":null},"text":{"field":"label","type":"nominal"}}},
  {"data":{"name":"txt11c"},"mark":{"type":"text","fontSize":11.5,"color":"#111111"},
   "encoding":{"x":{"field":"x","type":"quantitative","scale":{"domain":[0,545],"range":[0,545],"nice":false,"zero":false},"axis":null},
    "y":{"field":"y","type":"quantitative","scale":{"domain":[0,427],"range":[0,427],"nice":false,"zero":false},"axis":null},"text":{"field":"label","type":"nominal"}}},
  {"data":{"name":"txt12l"},"mark":{"type":"text","fontSize":12,"align":"left","color":"#111111"},
   "encoding":{"x":{"field":"x","type":"quantitative","scale":{"domain":[0,545],"range":[0,545],"nice":false,"zero":false},"axis":null},
    "y":{"field":"y","type":"quantitative","scale":{"domain":[0,427],"range":[0,427],"nice":false,"zero":false},"axis":null},"text":{"field":"label","type":"nominal"}}},
  {"data":{"name":"txt10l"},"mark":{"type":"text","fontSize":10,"align":"left","color":"#111111"},
   "encoding":{"x":{"field":"x","type":"quantitative","scale":{"domain":[0,545],"range":[0,545],"nice":false,"zero":false},"axis":null},
    "y":{"field":"y","type":"quantitative","scale":{"domain":[0,427],"range":[0,427],"nice":false,"zero":false},"axis":null},"text":{"field":"label","type":"nominal"}}},
  {"data":{"name":"one"},"mark":{"type":"text","text":"Statistics","fontSize":19.5,"color":"#111111"},
   "encoding":{"x":{"datum":324,"type":"quantitative","scale":{"domain":[0,545],"range":[0,545],"nice":false,"zero":false},"axis":null},
    "y":{"datum":178,"type":"quantitative","scale":{"domain":[0,427],"range":[0,427],"nice":false,"zero":false},"axis":null}}},
  {"data":{"name":"one"},"mark":{"type":"text","text":"SYMMETRIC","fontSize":8,"fontWeight":"bold","color":"#2A3F9F"},
   "encoding":{"x":{"datum":324,"type":"quantitative","scale":{"domain":[0,545],"range":[0,545],"nice":false,"zero":false},"axis":null},
    "y":{"datum":316,"type":"quantitative","scale":{"domain":[0,427],"range":[0,427],"nice":false,"zero":false},"axis":null}}},
  {"data":{"name":"one"},"mark":{"type":"text","text":"SKEWED LEFT","fontSize":8.3,"fontWeight":"bold","color":"#2446B5"},
   "encoding":{"x":{"datum":280,"type":"quantitative","scale":{"domain":[0,545],"range":[0,545],"nice":false,"zero":false},"axis":null},
    "y":{"datum":387.5,"type":"quantitative","scale":{"domain":[0,427],"range":[0,427],"nice":false,"zero":false},"axis":null}}},
  {"data":{"name":"one"},"mark":{"type":"text","text":"(negatively)","fontSize":5.5,"fontWeight":"bold","color":"#2446B5"},
   "encoding":{"x":{"datum":280,"type":"quantitative","scale":{"domain":[0,545],"range":[0,545],"nice":false,"zero":false},"axis":null},
    "y":{"datum":396.5,"type":"quantitative","scale":{"domain":[0,427],"range":[0,427],"nice":false,"zero":false},"axis":null}}},
  {"data":{"name":"one"},"mark":{"type":"text","text":"SKEWED RIGHT","fontSize":8.3,"fontWeight":"bold","color":"#E8203F"},
   "encoding":{"x":{"datum":382.5,"type":"quantitative","scale":{"domain":[0,545],"range":[0,545],"nice":false,"zero":false},"axis":null},
    "y":{"datum":387.5,"type":"quantitative","scale":{"domain":[0,427],"range":[0,427],"nice":false,"zero":false},"axis":null}}},
  {"data":{"name":"one"},"mark":{"type":"text","text":"(positively)","fontSize":5.5,"fontWeight":"bold","color":"#E8203F"},
   "encoding":{"x":{"datum":382,"type":"quantitative","scale":{"domain":[0,545],"range":[0,545],"nice":false,"zero":false},"axis":null},
    "y":{"datum":396.5,"type":"quantitative","scale":{"domain":[0,427],"range":[0,427],"nice":false,"zero":false},"axis":null}}}
 ]}
]
}
